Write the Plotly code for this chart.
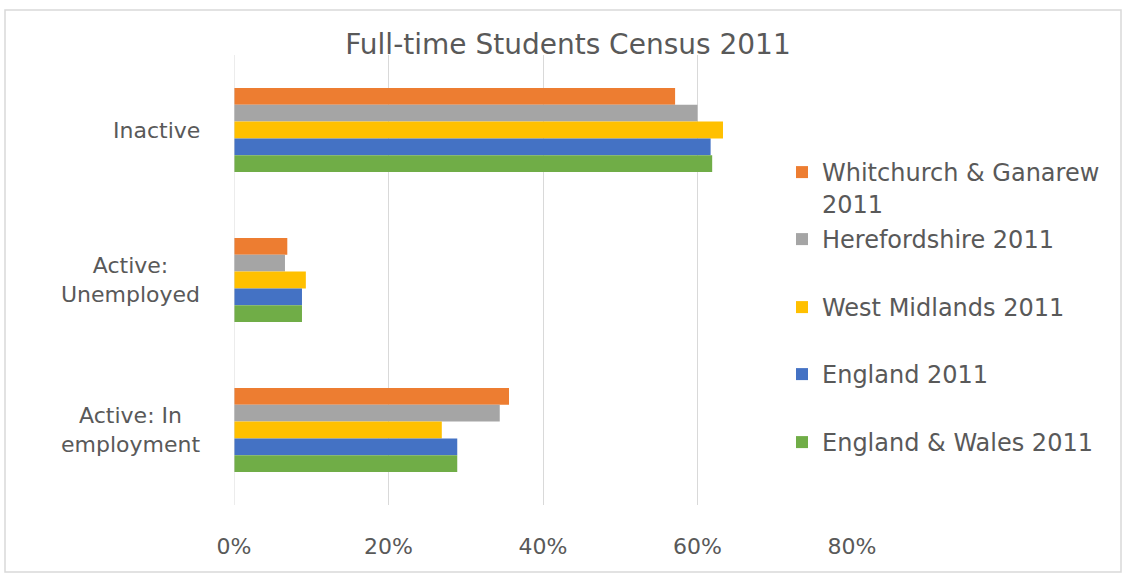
import plotly.graph_objects as go

categories = ["Inactive", "Active: Unemployed", "Active: In employment"]
category_labels = ["Inactive", "Active:<br>Unemployed", "Active: In<br>employment"]
series_names = ["Whitchurch & Ganarew<br>2011", "Herefordshire 2011", "West Midlands 2011",
                "England 2011", "England & Wales 2011"]
whitchurch = [57.1, 6.9, 35.6]
herefordshire = [60.0, 6.6, 34.4]
west_midlands = [63.3, 9.3, 26.9]
england = [61.7, 8.8, 28.9]
england_wales = [61.9, 8.8, 28.9]
series_values = [whitchurch, herefordshire, west_midlands, england, england_wales]
colors = ["#ED7D31", "#A5A5A5", "#FFC000", "#4472C4", "#70AD47"]
x_ticks = [0, 20, 40, 60, 80]
x_tick_labels = ["0%", "20%", "40%", "60%", "80%"]

W, H = 1123, 575
ML, MR, MT, MB = 234, 271, 55, 70
pw = W - ML - MR
ph = H - MT - MB


def px_x(p):
    return (p - ML) / pw


def px_y(p):
    return (H - MB - p) / ph


text_color = "#595959"
font_family = "DejaVu Sans"
legend_font = 24
legend_rows = [173, 240, 308, 375, 443]   # pixel centre of each legend entry's first line

fig = go.Figure()
legend_ids = ["legend", "legend2", "legend3", "legend4", "legend5"]
for name, vals, col, lid in zip(series_names, series_values, colors, legend_ids):
    fig.add_trace(go.Bar(
        y=categories, x=vals, name=name, orientation="h",
        marker=dict(color=col, line=dict(width=0)),
        legend=lid,
    ))

annotations = []
for cat, lab in zip(categories, category_labels):
    annotations.append(dict(
        x=px_x(202), xref="paper", y=cat, yref="y",
        text=lab, showarrow=False, xanchor="right", yanchor="middle", align="center",
        font=dict(family=font_family, size=22, color=text_color),
    ))

shapes = [dict(type="rect", xref="paper", yref="paper",
               x0=px_x(5), x1=px_x(1121), y0=px_y(572), y1=px_y(10),
               line=dict(color="#D9D9D9", width=1.5), fillcolor="rgba(0,0,0,0)", layer="below"),
          dict(type="line", xref="x", yref="paper", x0=0, x1=0, y0=0, y1=1,
               line=dict(color="#D9D9D9", width=1))]

layout_legends = {}
for lid, row in zip(legend_ids, legend_rows):
    layout_legends[lid] = dict(
        x=px_x(782), y=px_y(row - 23), xanchor="left", yanchor="top",
        font=dict(family=font_family, size=legend_font, color=text_color),
        itemwidth=30, bgcolor="rgba(0,0,0,0)", valign="top",
    )

fig.update_layout(
    width=W, height=H,
    margin=dict(l=ML, r=MR, t=MT, b=MB, pad=0),
    paper_bgcolor="white", plot_bgcolor="white",
    barmode="group", bargap=0.44, bargroupgap=0,
    title=dict(text="Full-time Students Census 2011", x=568 / W, xref="container",
               y=1 - 44 / H, yref="container", xanchor="center", yanchor="middle",
               font=dict(family=font_family, size=28, color=text_color)),
    xaxis=dict(range=[0, 80], tickvals=x_ticks, ticktext=x_tick_labels,
               showgrid=True, gridcolor="#D9D9D9", gridwidth=1, zeroline=False,
               showline=False, ticks="", ticklabelstandoff=26,
               tickfont=dict(family=font_family, size=22, color=text_color)),
    yaxis=dict(autorange="reversed", showticklabels=False, showgrid=False,
               zeroline=False, showline=False, ticks=""),
    showlegend=True,
    annotations=annotations,
    shapes=shapes,
    **layout_legends,
)

fig.write_html("out.html")
